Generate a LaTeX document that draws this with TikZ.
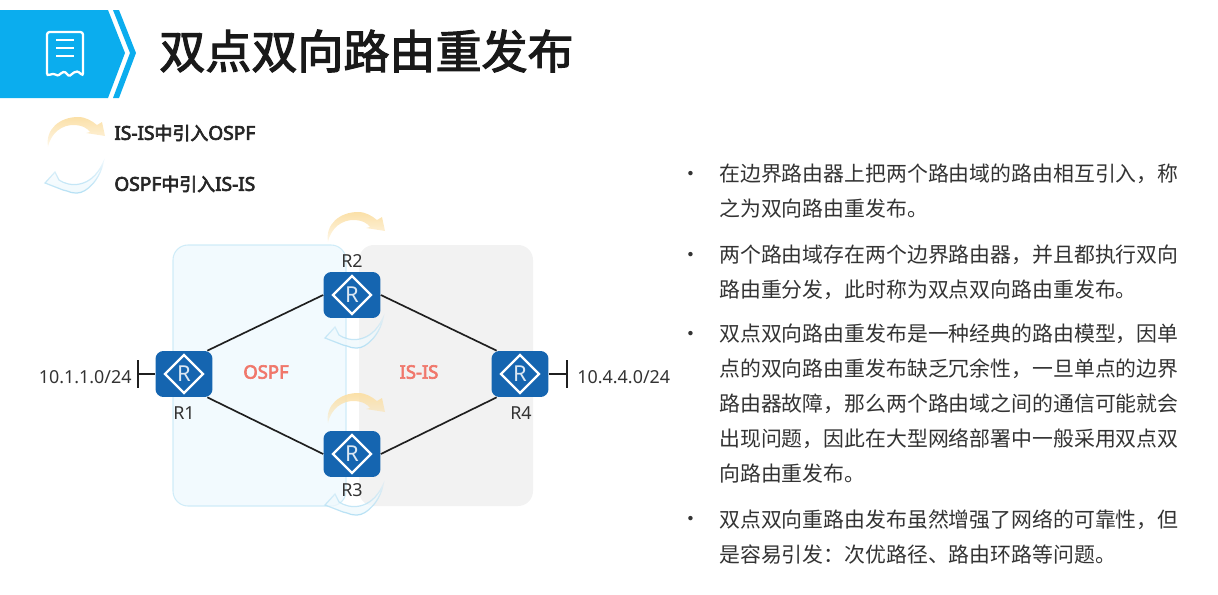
\documentclass[tikz,border=0pt]{standalone}
\usepackage{fontspec}
\setmainfont{Noto Sans CJK SC}
\newfontfamily\labelfont{Noto Sans}
\newfontfamily\titlefont[FakeBold=2.5]{Noto Sans CJK SC}
\newfontfamily\mediumfont[FakeBold=3.5]{Noto Sans CJK SC}
\newfontfamily\mediumlatin[FakeBold=3.5]{Noto Sans}
\newcommand{\lat}[1]{{\mediumlatin\fontsize{10.9}{12}\selectfont #1}}
\usepackage{xcolor}
\usetikzlibrary{fadings}
\definecolor{headblue}{HTML}{0BADEE}
\definecolor{routerblue}{HTML}{1565B0}
\definecolor{ospffill}{HTML}{F2FAFE}
\definecolor{ospfline}{HTML}{CFECF8}
\definecolor{isisfill}{HTML}{F2F2F2}
\definecolor{labelred}{HTML}{F0776B}
\definecolor{swoopyellow}{HTML}{FBE0A8}
\definecolor{swoopblue}{HTML}{B5E0F4}
\definecolor{bodygray}{HTML}{333333}
\tikzfading[name=fadelow,top color=transparent!0,middle color=transparent!0,bottom color=transparent!75]
\tikzfading[name=fadehigh,top color=transparent!75,middle color=transparent!0,bottom color=transparent!0]
\tikzset{
  router/.style={rectangle,rounded corners=4.5pt,fill=routerblue,minimum width=1.14cm,
    minimum height=0.92cm,inner sep=0pt,text=white!85!routerblue,font=\labelfont\fontsize{12.5}{12.5}\selectfont,
    path picture={\draw[white,line width=1.35pt,sharp corners] (path picture bounding box.center)
      +(19,0) -- +(0,-19) -- +(-19,0) -- +(0,19) -- cycle;}},
  routerlabel/.style={font=\labelfont\fontsize{10.2}{12}\selectfont,text=bodygray,inner sep=0pt},
  domainlabel/.style={font=\mediumlatin\fontsize{10.5}{12}\selectfont,text=labelred,inner sep=0pt},
  legendlabel/.style={font=\mediumfont\fontsize{10.2}{12}\selectfont,text=black!85,anchor=west,inner sep=0pt},
  bodytext/.style={font=\fontsize{11.88}{19.85}\selectfont,text=bodygray,anchor=north west,align=left,inner sep=0pt},
  bullet/.style={font=\fontsize{11.88}{19.85}\selectfont,text=bodygray,inner sep=0pt},
  link/.style={line width=0.95pt,black!88},
  swoopup/.pic={
    \path[fill=swoopyellow,path fading=fadelow] (0,0) .. controls (-3,-18) and (12,-30) .. (30,-30)
      .. controls (38,-30) and (44,-26) .. (49,-22) -- (54,-25) -- (57,-11) -- (38,-14) -- (42,-15)
      .. controls (40,-18) and (35,-22) .. (25,-22) .. controls (15,-22) and (3,-15) .. (0,0) -- cycle;
  },
  swoopdown/.pic={
    \path[draw=swoopblue,line width=0.7pt,fill=swoopblue!20,path fading=fadehigh] (0,0)
      .. controls (-3,16) and (-16,30) .. (-26,30) .. controls (-31,30) and (-34,29) .. (-36,28)
      -- (-40,27) -- (-58,20) -- (-48,9) -- (-44,17)
      .. controls (-34,24) and (-12,26) .. (0,0) -- cycle;
  }
}
\begin{document}
\begin{tikzpicture}[x=0.02cm,y=-0.02cm]
  \useasboundingbox (0,0) rectangle (1218,595);
  % Header band
  \fill[headblue] (0,10) -- (108,10) -- (125,53) -- (108,98) -- (0,98) -- cycle;
  \fill[headblue] (113,10) -- (119,10) -- (136,53) -- (119,98) -- (113,98) -- (130,53) -- cycle;
  % Receipt icon
  \draw[white,line width=1.3pt,rounded corners=1.5pt] (47,32) -- (83,32) -- (83,76)
    .. controls (78,71) and (76,71) .. (72,74) .. controls (68,77) and (66,71) .. (61,73)
    .. controls (57,77) and (55,72) .. (47,76) -- cycle;
  \draw[white,line width=1.3pt] (56,40) -- (74,40) (56,48) -- (74,48) (56,56) -- (74,56);
  % Title
  \node[font=\titlefont\fontsize{26.2}{30}\selectfont,text=black!90,anchor=west,inner sep=0pt] (title) at (159,51) {双点双向路由重发布};
  % Legend
  \pic at (48,147) {swoopup};
  \pic at (103,163) {swoopdown};
  \node[legendlabel] (legendup) at (114,133) {\lat{IS-IS}中引入\lat{OSPF}};
  \node[legendlabel] (legenddown) at (114,184) {\lat{OSPF}中引入\lat{IS-IS}};
  % Routing domains
  \fill[isisfill,rounded corners=8.5pt] (359,245) rectangle (533,506);
  \draw[ospfline,fill=ospffill,line width=0.6pt,rounded corners=8.5pt] (173,245) rectangle (346,506);
  \node[domainlabel] (ospf) at (266,372) {OSPF};
  \node[domainlabel] (isis) at (419,372) {IS-IS};
  % Import arrows
  \pic at (328,242) {swoopup};
  \pic at (328,423) {swoopup};
  \pic at (383,318) {swoopdown};
  \pic at (383,485) {swoopdown};
  % Routers
  \node[router] (r1) at (184,374) {R};
  \node[router] (r2) at (352,295) {R};
  \node[router] (r3) at (352,454) {R};
  \node[router] (r4) at (520,374) {R};
  \node[routerlabel] (r1label) at (184,413) {R1};
  \node[routerlabel] (r2label) at (352,261) {R2};
  \node[routerlabel] (r3label) at (352,490) {R3};
  \node[routerlabel] (r4label) at (521,413) {R4};
  % Links
  \draw[link] (r1.45) -- (r2.west);
  \draw[link] (r1.-45) -- (r3.west);
  \draw[link] (r2.east) -- (r4.135);
  \draw[link] (r3.east) -- (r4.-135);
  % Stub networks
  \coordinate (stubl) at (138,374);
  \coordinate (stubr) at (567,374);
  \draw[link] (r1.west) -- (stubl);
  \draw[link] (stubl) +(0,-14) -- +(0,14);
  \draw[link] (r4.east) -- (stubr);
  \draw[link] (stubr) +(0,-14) -- +(0,14);
  \node[routerlabel,anchor=east] (netl) at (132,377) {10.1.1.0/24};
  \node[routerlabel,anchor=west] (netr) at (577,377) {10.4.4.0/24};
  % Text on the right
  \foreach \name/\ypos in {a/176,b/257,c/336,d/521}
    \node[bullet] (dot\name) at (691,\ypos) {•};
  \node[bodytext] (parta) at (719,164) {在边界路由器上把两个路由域的路由相互引入，称\\之为双向路由重发布。};
  \node[bodytext] (partb) at (719,245) {两个路由域存在两个边界路由器，并且都执行双向\\路由重分发，此时称为双点双向路由重发布。};
  \node[bodytext] (partc) at (719,324) {双点双向路由重发布是一种经典的路由模型，因单\\点的双向路由重发布缺乏冗余性，一旦单点的边界\\路由器故障，那么两个路由域之间的通信可能就会\\出现问题，因此在大型网络部署中一般采用双点双\\向路由重发布。};
  \node[bodytext] (partd) at (719,509) {双点双向重路由发布虽然增强了网络的可靠性，但\\是容易引发：次优路径、路由环路等问题。};
\end{tikzpicture}
\end{document}
